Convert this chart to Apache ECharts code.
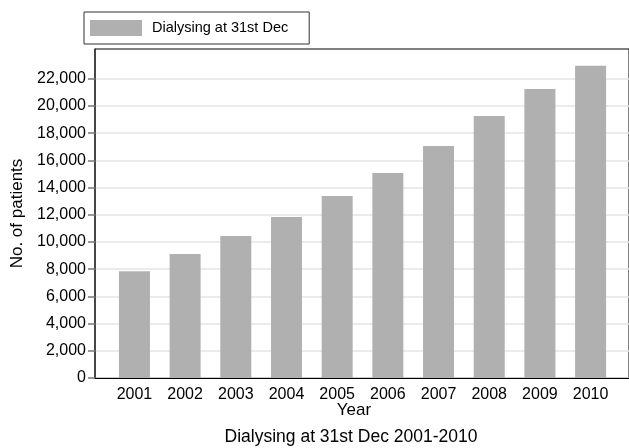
<!DOCTYPE html>
<html><head><meta charset="utf-8">
<script src="https://cdn.jsdelivr.net/npm/echarts@6/dist/echarts.min.js"></script>
<style>html,body{margin:0;padding:0;background:#fff}#c{width:629px;height:448px}</style>
</head><body><div id="c"></div>
<script>
const years = [2001, 2002, 2003, 2004, 2005, 2006, 2007, 2008, 2009, 2010];
const patients = [7850, 9120, 10440, 11840, 13380, 15070, 17060, 19260, 21250, 22960];
const yTicks = [0, 2000, 4000, 6000, 8000, 10000, 12000, 14000, 16000, 18000, 20000, 22000];
const seriesName = 'Dialysing at 31st Dec';
const xTitle = 'Year';
const yTitle = 'No. of patients';
const chartTitle = 'Dialysing at 31st Dec 2001-2010';

const chart = echarts.init(document.getElementById('c'), null, {renderer: 'canvas'});
const FONT = '"Liberation Sans", Arial, sans-serif';
chart.setOption({
  animation: false,
  textStyle: {fontFamily: FONT},
  title: [
    {text: xTitle, left: 354, top: 402, textAlign: 'center', padding: 0,
     textStyle: {fontSize: 17, fontWeight: 'normal', color: '#000', fontFamily: FONT}},
    {text: chartTitle, left: 351, top: 428, textAlign: 'center', padding: 0,
     textStyle: {fontSize: 17.5, fontWeight: 'normal', color: '#000', fontFamily: FONT}}
  ],
  legend: {
    left: 84, top: 12, padding: [8, 21, 8, 6],
    borderColor: '#333', borderWidth: 1,
    itemWidth: 52, itemHeight: 16, icon: 'rect',
    textStyle: {fontSize: 14.5, color: '#000', padding: [0, 0, 0, 5], fontFamily: FONT},
    data: [seriesName]
  },
  grid: {left: 95, right: -1, top: 49, bottom: 70, show: true, borderColor: '#000', borderWidth: 1, containLabel: false},
  xAxis: {
    type: 'value', min: 2000.222, max: 2010.758,
    axisLine: {show: true, onZero: false, lineStyle: {color: '#000', width: 1}},
    axisTick: {show: false},
    splitLine: {show: false},
    axisLabel: {customValues: years, formatter: v => String(v), fontSize: 16, color: '#000', margin: 9, fontFamily: FONT}
  },
  yAxis: {
    type: 'value', min: 0, max: 24190,
    name: yTitle, nameLocation: 'middle', nameGap: 66,
    nameTextStyle: {fontSize: 17, color: '#000', fontFamily: FONT},
    axisLine: {show: true, lineStyle: {color: '#333', width: 1.5}},
    axisTick: {show: true, customValues: yTicks, length: 7, lineStyle: {color: '#777', width: 1.5}},
    axisLabel: {customValues: yTicks, formatter: v => v.toLocaleString('en-US'), fontSize: 16, color: '#000', margin: 9, fontFamily: FONT},
    splitLine: {show: true, lineStyle: {color: '#e5e5e5', width: 1.5}}
  },
  series: [{
    name: seriesName, type: 'bar', barWidth: 31,
    itemStyle: {color: '#b0b0b0'},
    data: years.map((y, i) => [y, patients[i]])
  }]
});
</script></body></html>
